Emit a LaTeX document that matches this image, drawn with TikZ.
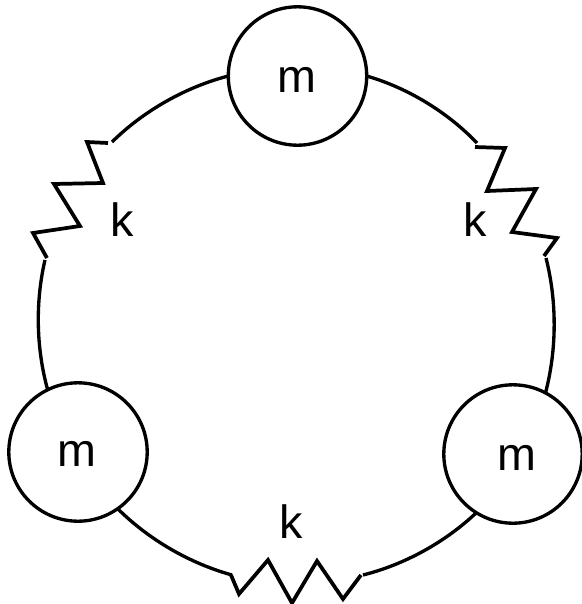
\documentclass[tikz,border=0pt]{standalone}
\usepackage{fontspec}
\setmainfont{Liberation Sans}
\tikzset{
  x=0.75pt,y=-0.75pt,
  mass/.style={circle,draw=black,line width=2.5pt,minimum size=103.8pt,inner sep=0pt,outer sep=0pt},
  lab/.style={inner sep=0pt,font=\fontsize{35}{35}\selectfont},
  wire/.style={line width=2.8pt,black,line cap=butt,line join=miter},
  link/.style={line width=2.5pt,black,looseness=0.85}
}
\begin{document}
\begin{tikzpicture}
\useasboundingbox (0,0) rectangle (582,604);
\node[mass] (top) at (297.5,76) {};
\node[mass] (left) at (78,452) {};
\node[mass] (right) at (513,454) {};
\node[lab,anchor=base] (mt) at (297,92) {m};
\node[lab,anchor=base] (ml) at (77,466) {m};
\node[lab,anchor=base] (mr) at (517,470) {m};
\node[lab,anchor=base] (k1) at (122,236) {k};
\node[lab,anchor=base] (k2) at (475,236) {k};
\node[lab,anchor=base] (k3) at (291,538) {k};
% left spring
\coordinate (a0) at (108,143);
\coordinate (a1) at (87,142);
\coordinate (a2) at (103,183);
\coordinate (a3) at (54,184);
\coordinate (a4) at (80,226);
\coordinate (a5) at (33,233);
\coordinate (a6) at (47,258);
% right spring
\coordinate (b0) at (475,147);
\coordinate (b1) at (505,148);
\coordinate (b2) at (487,191);
\coordinate (b3) at (536,189);
\coordinate (b4) at (512,232);
\coordinate (b5) at (557,238);
\coordinate (b6) at (544,256);
% bottom spring
\coordinate (c0) at (231,575);
\coordinate (c1) at (239,594);
\coordinate (c2) at (268,560);
\coordinate (c3) at (292,603);
\coordinate (c4) at (317,561);
\coordinate (c5) at (343,599);
\coordinate (c6) at (361,575);
% wire ends next to the springs
\coordinate (a0e) at (112,142);
\coordinate (a6e) at (45,260);
\coordinate (b0e) at (477,143);
\coordinate (b6e) at (546,258);
\coordinate (c0e) at (232,575);
\coordinate (c6e) at (363,575);
\draw[wire] (a0)--(a1)--(a2)--(a3)--(a4)--(a5)--(a6);
\draw[wire] (b0)--(b1)--(b2)--(b3)--(b4)--(b5)--(b6);
\draw[wire] (c0)--(c1)--(c2)--(c3)--(c4)--(c5)--(c6);
\draw[link] (top.180) to[bend right=15] (a0e);
\draw[link] (a6e) to[bend right=14.3] (left.116.6);
\draw[link] (left.-55) to[bend right=14.7] (c0e);
\draw[link] (c6e) to[bend right=14.7] (right.238);
\draw[link] (right.62) to[bend right=14.5] (b6e);
\draw[link] (b0e) to[bend right=15] (top.0);
\end{tikzpicture}
\end{document}
